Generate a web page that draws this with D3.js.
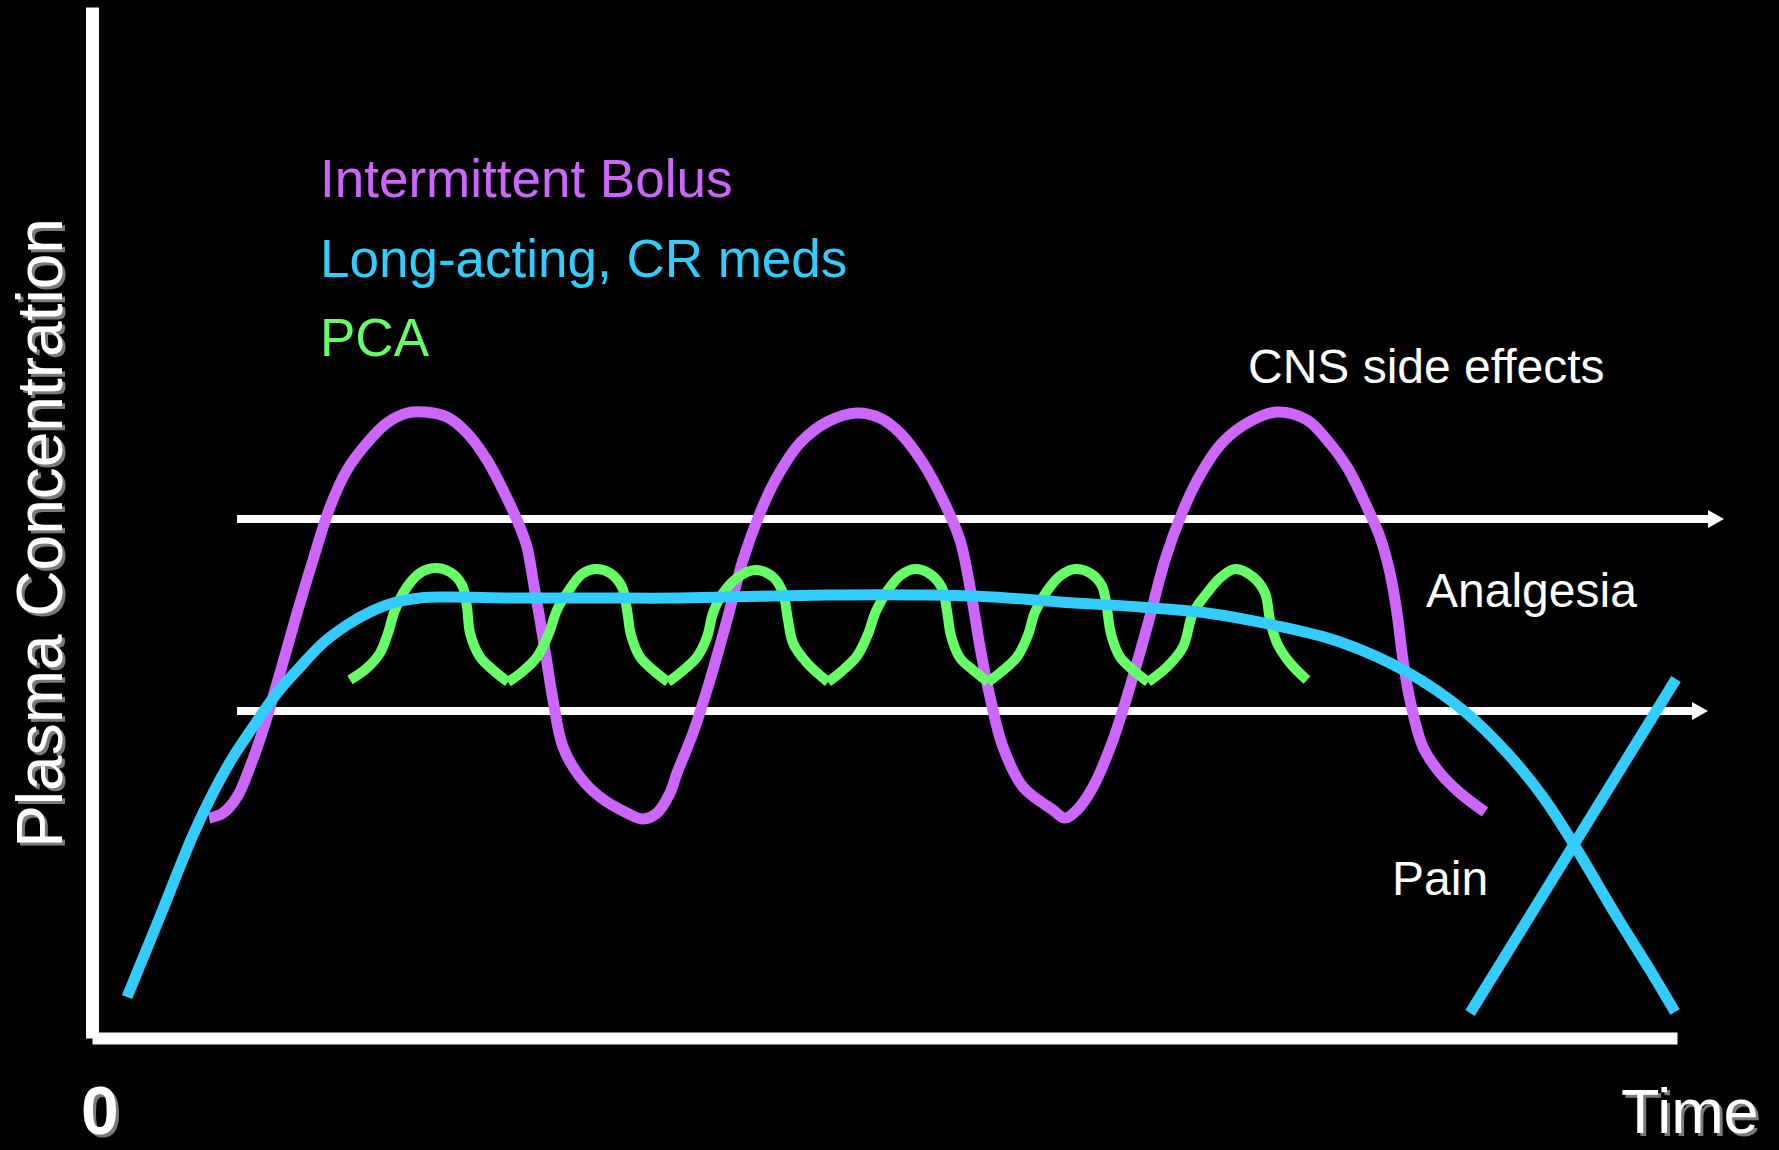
<!DOCTYPE html>
<html>
<head>
<meta charset="utf-8">
<script src="https://cdn.jsdelivr.net/npm/d3@7"></script>
<style>
  html, body { margin: 0; padding: 0; background: #000; }
  svg { display: block; }
  text { font-family: "Liberation Sans", Arial, Helvetica, sans-serif; }
</style>
</head>
<body>
<div id="chart"></div>
<script>
// ---------- data (time units, concentration units) ----------
const legendLabels = ["Intermittent Bolus", "Long-acting, CR meds", "PCA"];
const zoneLabels = ["CNS side effects", "Analgesia", "Pain"];
const axisLabels = { x: "Time", y: "Plasma Concentration", origin: "0" };

// Intermittent bolus (purple)
const bolusSeries = [
  [11.7,22.0],[13.1,22.5],[14.5,24.1],[15.8,27.1],[17.1,30.8],[18.8,36.5],[20.5,42.5],
  [22.1,47.8],[23.8,53.1],[25.5,56.8],[27.5,59.5],[29.5,61.5],[31.5,62.5],[33.3,62.6],
  [35.5,62.1],[37.5,60.5],[39.5,57.8],[41.1,54.8],[42.5,51.8],[43.5,49.1],[44.1,45.8],
  [44.8,41.8],[45.5,37.5],[46.1,33.8],[47.1,29.1],[48.8,26.1],[50.8,24.1],[53.5,22.5],
  [55.1,21.9],[56.5,22.5],[57.8,24.5],[58.5,26.5],[60.1,30.5],[61.8,35.8],[63.5,41.8],
  [65.1,47.8],[66.8,52.5],[68.5,56.1],[70.8,59.5],[73.5,61.6],[76.5,62.5],[78.8,62.0],
  [80.8,60.5],[83.1,57.5],[85.1,53.8],[86.8,49.8],[87.8,45.1],[88.8,39.1],[89.8,34.1],
  [91.1,29.1],[93.1,25.1],[96.1,22.8],[97.3,22.0],[98.5,22.8],[100.1,25.1],[102.1,29.8],
  [104.0,35.8],[105.7,41.8],[107.3,47.8],[109.0,52.5],[110.7,56.1],[113.0,59.5],[115.7,61.6],
  [118.5,62.6],[121.5,61.8],[123.5,59.8],[125.5,57.1],[127.5,53.1],[128.8,50.1],[129.8,46.5],
  [130.5,42.5],[131.1,37.8],[131.8,33.8],[133.1,29.1],[134.8,26.5],[136.8,24.5],[139.3,22.6]
];

// Long-acting, CR meds (blue)
const longActingSeries = [
  [3.5,4.1],[6.7,11.9],[10.1,20.3],[12.1,24.5],[14.1,28.1],[16.1,31.1],[18.5,34.5],
  [20.8,37.1],[23.1,39.5],[25.5,41.3],[27.8,42.6],[30.1,43.5],[32.8,44.0],[35.5,44.1],
  [42.1,44.0],[50.8,44.0],[58.8,44.0],[73.5,44.3],[83.5,44.3],[90.1,44.1],[96.8,43.6],
  [104.8,43.1],[111.5,42.5],[118.1,41.3],[124.8,39.6],[131.5,36.6],[137.2,32.7],
  [141.7,28.3],[145.1,24.1],[148.1,19.5],[152.5,12.1],[155.8,6.8],[158.3,2.6]
];

// Pain rising when the long-acting level falls (blue straight)
const painSeries = [[137.8,2.5],[158.4,35.9]];

// PCA (green) – humps meet at sharp cusps
const pcaSeries = [
  [25.8,35.8],[27.5,37.0],[28.8,38.5],[29.6,40.5],[30.3,42.8],[31.5,45.1],[32.8,46.5],
  [34.3,47.0],[35.8,46.6],[37.0,45.3],[37.5,43.1],[37.8,40.5],[38.8,38.1],[40.1,36.8],
  [41.6,35.6],
  [43.0,36.6],[44.5,38.1],[45.7,40.5],[46.5,42.8],[47.7,44.8],[49.0,46.4],[50.3,46.9],
  [51.8,46.5],[53.0,45.1],[53.5,42.8],[53.9,40.3],[54.8,38.1],[56.1,36.8],[57.6,35.6],
  [58.8,36.5],[60.5,38.1],[61.5,40.1],[62.1,42.5],[63.1,44.5],[64.5,46.0],[66.3,46.8],
  [68.1,46.1],[69.1,44.5],[69.6,41.8],[70.1,39.5],[71.5,37.5],[73.6,35.6],
  [75.0,36.7],[76.5,38.2],[77.6,40.4],[78.4,42.7],[79.6,44.8],[80.9,46.3],[82.3,46.9],
  [83.8,46.4],[85.0,45.0],[85.5,42.7],[85.9,40.2],[86.8,38.0],[88.1,36.8],[89.6,35.6],
  [90.9,36.6],[92.5,38.1],[93.6,40.3],[94.3,42.6],[95.5,44.7],[96.8,46.2],[98.3,46.9],
  [99.8,46.5],[101.0,45.2],[101.5,42.9],[101.9,40.4],[102.8,38.1],[104.1,36.8],[105.6,35.6],
  [107.5,37.1],[109.1,39.1],[110.1,42.5],[111.5,44.5],[112.8,46.0],[114.3,46.9],
  [116.1,46.1],[117.3,44.5],[117.8,41.8],[118.5,39.5],[119.8,37.5],[121.5,35.8]
];
const pcaCusps = [41.6, 57.6, 73.6, 89.6, 105.6];

// threshold arrows: CNS side effects (upper) and pain (lower)
const thresholdLevels = [51.9, 32.7];
const thresholdStart = [14.5, 14.5];
const thresholdEnd = [163.2, 161.6];

const xDomain = [0, 158.5];
const yDomain = [0, 103.1];

// ---------- drawing ----------
const W = 1779, H = 1150;
const colors = { bolus: "#CC66FF", longActing: "#33CCFF", pca: "#66FF66", white: "#FFFFFF", shadow: "#7a7a7a" };

const svg = d3.select("#chart").append("svg")
  .attr("width", W).attr("height", H)
  .style("background", "#000");

const x = d3.scaleLinear().domain(xDomain).range([92, 1677]);
const y = d3.scaleLinear().domain(yDomain).range([1038, 7]);

const defs = svg.append("defs");
defs.append("marker")
  .attr("id", "arrowHead")
  .attr("viewBox", "0 0 16 18")
  .attr("refX", 0).attr("refY", 9)
  .attr("markerWidth", 16).attr("markerHeight", 18)
  .attr("markerUnits", "userSpaceOnUse")
  .attr("orient", "auto")
  .append("path").attr("d", "M0,0 L16,9 L0,18 Z").attr("fill", colors.white);

// axes (domain lines only)
const yAxis = d3.axisLeft(y).tickValues([]).tickSizeOuter(0);
const xAxis = d3.axisBottom(x).tickValues([]).tickSizeOuter(0);
svg.append("g").attr("transform", `translate(${x(0)},0)`).call(yAxis)
  .select(".domain").attr("stroke", colors.white).attr("stroke-width", 13);
svg.append("g").attr("transform", `translate(0,${y(0)})`).call(xAxis)
  .select(".domain").attr("stroke", colors.white).attr("stroke-width", 12);

// threshold arrows
thresholdLevels.forEach((lv, i) => {
  svg.append("line")
    .attr("x1", x(thresholdStart[i]))
    .attr("x2", x(thresholdEnd[i]) - 16)
    .attr("y1", y(lv)).attr("y2", y(lv))
    .attr("stroke", colors.white).attr("stroke-width", 8)
    .attr("marker-end", "url(#arrowHead)");
});

const smooth = d3.line().x(d => x(d[0])).y(d => y(d[1])).curve(d3.curveCatmullRom.alpha(0.5));
const straight = d3.line().x(d => x(d[0])).y(d => y(d[1]));

// purple bolus
svg.append("path").datum(bolusSeries).attr("d", smooth)
  .attr("fill", "none").attr("stroke", colors.bolus).attr("stroke-width", 11);

// green PCA – split into humps at cusps
const humps = [];
let cur = [];
pcaSeries.forEach(p => {
  cur.push(p);
  if (pcaCusps.includes(p[0])) { humps.push(cur); cur = [p]; }
});
if (cur.length > 1) humps.push(cur);
svg.append("g").selectAll("path").data(humps).join("path")
  .attr("d", smooth).attr("fill", "none")
  .attr("stroke", colors.pca).attr("stroke-width", 10);

// blue long-acting
svg.append("path").datum(longActingSeries).attr("d", smooth)
  .attr("fill", "none").attr("stroke", colors.longActing).attr("stroke-width", 11);
svg.append("path").datum(painSeries).attr("d", straight)
  .attr("fill", "none").attr("stroke", colors.longActing).attr("stroke-width", 11);

// legend labels
const legendColors = [colors.bolus, colors.longActing, colors.pca];
const legendBaselines = [197, 277, 356];
legendLabels.forEach((t, i) => {
  svg.append("text").attr("x", 320).attr("y", legendBaselines[i])
    .attr("font-size", 53).attr("fill", legendColors[i]).text(t);
});

// zone labels
const zonePos = [[1248, 383], [1426, 607], [1392, 895]];
zoneLabels.forEach((t, i) => {
  svg.append("text").attr("x", zonePos[i][0]).attr("y", zonePos[i][1])
    .attr("font-size", 48).attr("fill", colors.white).text(t);
});

// axis titles with drop shadow
function shadowText(sel, attrs, txt) {
  [[3, 3, colors.shadow], [0, 0, colors.white]].forEach(([dx, dy, fill]) => {
    const t = sel.append("text").text(txt).attr("fill", fill);
    Object.entries(attrs).forEach(([k, v]) => t.attr(k, typeof v === "function" ? v(dx, dy) : v));
  });
}
shadowText(svg, {
  transform: (dx, dy) => `translate(${62 + dx},${533 + dy}) rotate(-90)`,
  "text-anchor": "middle", "font-size": 64
}, axisLabels.y);
shadowText(svg, {
  x: (dx) => 1621 + dx, y: (dx, dy) => 1133 + dy, "font-size": 63
}, axisLabels.x);
shadowText(svg, {
  x: (dx) => 81 + dx, y: (dx, dy) => 1134 + dy, "font-size": 68, "font-weight": "bold"
}, axisLabels.origin);
</script>
</body>
</html>
